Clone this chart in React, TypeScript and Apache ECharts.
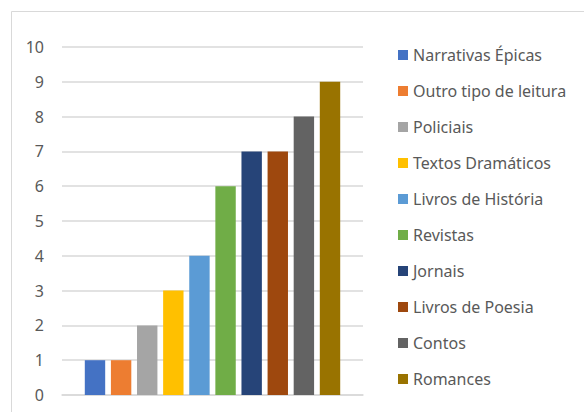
import React, { useEffect, useRef } from "react";
import * as echarts from "echarts";

const seriesNames = [
  "Narrativas Épicas",
  "Outro tipo de leitura",
  "Policiais",
  "Textos Dramáticos",
  "Livros de História",
  "Revistas",
  "Jornais",
  "Livros de Poesia",
  "Contos",
  "Romances",
];
const seriesValues = [1, 1, 2, 3, 4, 6, 7, 7, 8, 9];
const seriesColors = [
  "#4472C4",
  "#ED7D31",
  "#A5A5A5",
  "#FFC000",
  "#5B9BD5",
  "#70AD47",
  "#264478",
  "#9E480E",
  "#636363",
  "#997300",
];
const categories = [""];

export default function App() {
  const ref = useRef<HTMLDivElement>(null);
  useEffect(() => {
    if (!ref.current) return;
    const chart = echarts.init(ref.current, undefined, { renderer: "svg" });
    const font = "'Noto Sans', sans-serif";
    chart.setOption({
      animation: false,
      backgroundColor: "#ffffff",
      graphic: [
        {
          type: "rect",
          shape: { x: 11.5, y: 11.5, width: 700, height: 500 },
          style: { fill: "none", stroke: "#D9D9D9", lineWidth: 1 },
          silent: true,
        },
      ],
      grid: { left: 62, right: 221, top: 47, bottom: 17 },
      xAxis: {
        type: "category",
        data: categories,
        axisLine: { show: true, lineStyle: { color: "#D9D9D9", width: 1.5 } },
        axisTick: { show: false },
        axisLabel: { show: false },
      },
      yAxis: {
        type: "value",
        min: 0,
        max: 10,
        interval: 1,
        axisLine: { show: false },
        axisTick: { show: false },
        axisLabel: {
          color: "#595959",
          fontFamily: font,
          fontSize: 16,
          margin: 18,
        },
        splitLine: { lineStyle: { color: "#D9D9D9", width: 1.5 } },
      },
      legend: {
        orient: "vertical",
        left: 393,
        top: 42,
        padding: 5,
        icon: "rect",
        itemWidth: 10,
        itemHeight: 10,
        itemGap: 20,
        textStyle: {
          color: "#595959",
          fontFamily: font,
          fontSize: 16,
          lineHeight: 16,
        },
        data: seriesNames,
      },
      series: seriesNames.map((name, i) => ({
        type: "bar",
        name,
        data: [seriesValues[i]],
        barWidth: 20.4,
        barGap: "28%",
        itemStyle: { color: seriesColors[i] },
      })),
    });
    return () => chart.dispose();
  }, []);
  return (
    <div
      ref={ref}
      style={{ position: "fixed", left: 0, top: 0, width: 584, height: 412 }}
    />
  );
}
